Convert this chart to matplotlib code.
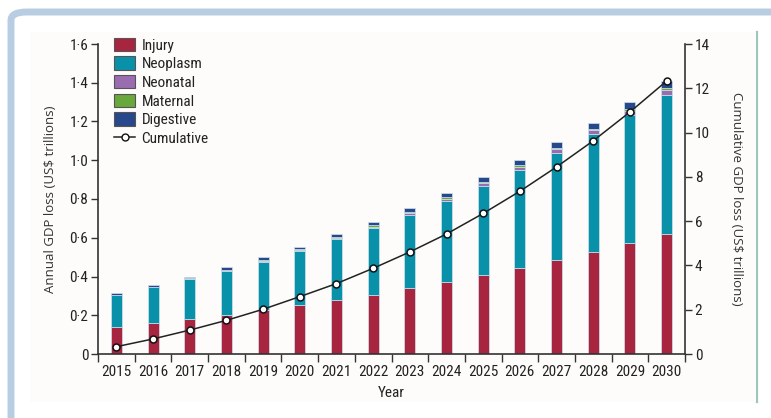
import numpy as np
import matplotlib
matplotlib.use('Agg')
import matplotlib.pyplot as plt
from matplotlib import font_manager
from matplotlib.patches import Rectangle, FancyBboxPatch, Patch
from matplotlib.lines import Line2D
from matplotlib.ticker import FixedLocator, FuncFormatter

# data (US$ trillions)
years = [2015, 2016, 2017, 2018, 2019, 2020, 2021, 2022,
         2023, 2024, 2025, 2026, 2027, 2028, 2029, 2030]
injury = [0.139, 0.162, 0.181, 0.201, 0.227, 0.251, 0.277, 0.306,
          0.339, 0.372, 0.408, 0.446, 0.487, 0.528, 0.573, 0.621]
neoplasm = [0.164, 0.182, 0.204, 0.227, 0.250, 0.282, 0.315, 0.346,
            0.380, 0.418, 0.461, 0.505, 0.552, 0.606, 0.661, 0.717]
neonatal = [0.001, 0.001, 0.002, 0.003, 0.004, 0.004, 0.005, 0.006,
            0.008, 0.010, 0.012, 0.015, 0.017, 0.020, 0.022, 0.025]
maternal = [0.003, 0.003, 0.004, 0.005, 0.005, 0.005, 0.006, 0.007,
            0.007, 0.008, 0.008, 0.008, 0.008, 0.009, 0.009, 0.009]
digestive = [0.006, 0.006, 0.008, 0.011, 0.013, 0.012, 0.015, 0.018,
             0.021, 0.023, 0.025, 0.026, 0.028, 0.029, 0.034, 0.035]
cumulative = [0.33, 0.68, 1.08, 1.52, 2.02, 2.59, 3.18, 3.87,
              4.61, 5.42, 6.35, 7.35, 8.45, 9.63, 10.93, 12.33]

series = [('Injury', injury, '#a8253f'),
          ('Neoplasm', neoplasm, '#0a91aa'),
          ('Neonatal', neonatal, '#9a6cb0'),
          ('Maternal', maternal, '#69a83a'),
          ('Digestive', digestive, '#28488c')]

# pick a narrow face if one is installed, otherwise Roboto
installed = set(f.name for f in font_manager.fontManager.ttflist)
narrow_name = 'Roboto'
for cand in ['Roboto Condensed', 'Liberation Sans Narrow', 'DejaVu Sans Condensed',
             'Open Sans Condensed']:
    if cand in installed:
        narrow_name = cand
        break
narrow = [narrow_name, 'DejaVu Sans']
plain = ['Open Sans', 'DejaVu Sans']
axis_col = '#333333'
tick_size = 11 if narrow_name != 'Roboto' else 9.8

W, H = 771, 418
fig = plt.figure(figsize=(W / 100, H / 100), dpi=100)
fig.patch.set_facecolor('white')

# frame around the figure panel, in pixel units
def px(x, y):
    return x / W, 1 - y / H

fig.patches.append(FancyBboxPatch(px(11, 440), 900 / W, 428 / H,
                                  boxstyle='round,pad=0,rounding_size=0.02',
                                  transform=fig.transFigure, facecolor='white',
                                  edgecolor='#b9cde2', linewidth=5, zorder=-2))
fig.patches.append(Rectangle(px(30, 402), (756 - 30) / W, (402 - 32) / H,
                             transform=fig.transFigure, facecolor='#fdfcfa',
                             edgecolor='none', zorder=-1))
fig.lines.append(Line2D([757 / W, 757 / W], [1 - 32 / H, 1 - 402 / H],
                        transform=fig.transFigure, color='#9fc6ba', lw=1.6,
                        zorder=-1))

ax = fig.add_axes([98 / W, 64 / H, (685 - 98) / W, (354 - 44) / H])
ax.set_facecolor('none')
x = np.arange(len(years))
bottom = np.zeros(len(years))
for name, vals, col in series:
    ax.bar(x, vals, width=0.3, bottom=bottom, color=col, label=name,
           edgecolor='#cfe3ee', linewidth=0.5, zorder=2)
    bottom = bottom + np.array(vals)

ax.set_xlim(-0.5, len(years) - 0.5)
ax.set_ylim(0, 1.6)
ax.set_yticks(np.arange(0, 1.61, 0.2))
ax.yaxis.set_major_formatter(FuncFormatter(
    lambda v, p: '0' if abs(v) < 1e-9 else ('%.1f' % v).replace('.', '\u00b7')))
ax.set_xticks(x)
ax.set_xticklabels([str(y) for y in years])
ax.xaxis.set_minor_locator(FixedLocator(np.arange(-0.5, len(years), 1.0)))
ax.tick_params(axis='x', which='major', length=0, pad=8, labelsize=tick_size)
ax.tick_params(axis='x', which='minor', length=6, width=1, color=axis_col,
               direction='out')
ax.tick_params(axis='y', length=5, width=1, color=axis_col, labelsize=tick_size,
               pad=2)
for lab in ax.get_xticklabels() + ax.get_yticklabels():
    lab.set_family(narrow)
    lab.set_color('#222222')
for s in ['top', 'right']:
    ax.spines[s].set_visible(False)
for s in ['left', 'bottom']:
    ax.spines[s].set_color(axis_col)
    ax.spines[s].set_linewidth(1.2)
ax.set_ylabel('Annual GDP loss (US$ trillions)', family=plain, fontsize=9.5,
              color='#333333', labelpad=9)
ax.set_xlabel('Year', family=narrow, fontsize=tick_size, color='#222222',
              labelpad=5)

ax2 = ax.twinx()
ax2.plot(x, cumulative, color='#222222', lw=1.1, marker='o', markersize=5,
         markerfacecolor='white', markeredgecolor='#111111',
         markeredgewidth=1.1, zorder=5, label='Cumulative')
ax2.set_ylim(0, 14)
ax2.set_yticks(np.arange(0, 15, 2))
ax2.tick_params(axis='y', length=5, width=1, color=axis_col, labelsize=tick_size,
                pad=2)
for lab in ax2.get_yticklabels():
    lab.set_family(narrow)
    lab.set_color('#222222')
for s in ['top', 'left', 'bottom']:
    ax2.spines[s].set_visible(False)
ax2.spines['right'].set_color(axis_col)
ax2.spines['right'].set_linewidth(1.2)
ax2.set_ylabel('Cumulative GDP loss (US$ trillions)', family=plain,
               fontsize=9.5, color='#333333', rotation=-90, labelpad=24)

handles = [Patch(facecolor=c, edgecolor='#555555', linewidth=0.8, label=n)
           for n, v, c in series]
handles.append(Line2D([], [], color='#222222', lw=1.1, marker='o',
                      markersize=5, markerfacecolor='white',
                      markeredgecolor='#111111', label='Cumulative'))
leg = ax2.legend(handles=handles, loc='upper left',
                 bbox_to_anchor=(0.017, 1.04), frameon=False,
                 prop={'family': narrow, 'size': tick_size}, handlelength=1.4,
                 handleheight=0.95, handletextpad=0.4, labelspacing=0.25,
                 borderaxespad=0)
for t in leg.get_texts():
    t.set_color('#222222')

fig.savefig('out.png', dpi=100)
